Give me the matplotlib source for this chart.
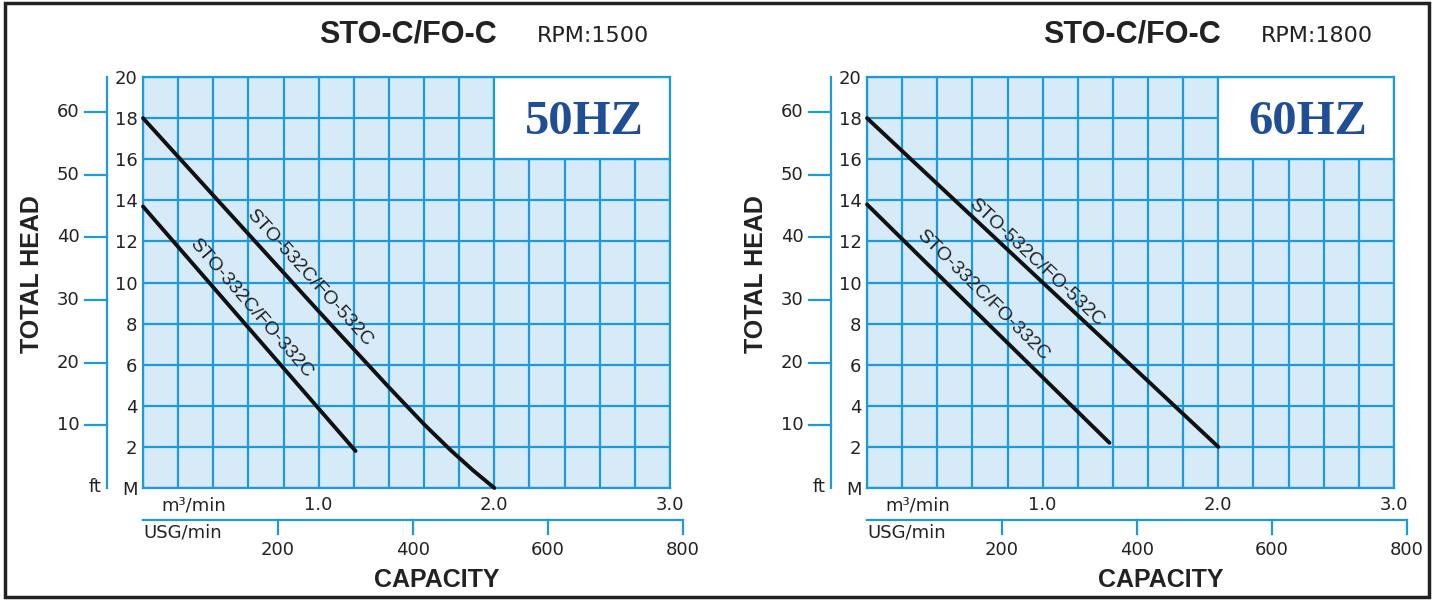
import numpy as np
import matplotlib
matplotlib.use("Agg")
import matplotlib.pyplot as plt
from matplotlib.patches import Rectangle

plt.rcParams['font.family'] = ['Liberation Sans', 'DejaVu Sans']

# ---------------- data ----------------
# capacity in m3/min, total head in m
flow_50_532 = [0.0, 0.5, 1.0, 1.4, 1.6, 1.75, 1.88, 2.0]
head_50_532 = [18.0, 13.3, 8.6, 4.9, 3.1, 1.85, 0.85, 0.0]
flow_50_332 = [0.0, 0.6, 1.21]
head_50_332 = [13.7, 7.8, 1.8]

flow_60_532 = [0.0, 1.0, 2.0]
head_60_532 = [18.0, 10.0, 2.0]
flow_60_332 = [0.0, 0.7, 1.38]
head_60_332 = [13.8, 7.9, 2.2]

label_532 = "STO-532C/FO-532C"
label_332 = "STO-332C/FO-332C"

m_ticks = list(range(0, 21, 2))
ft_ticks = [10, 20, 30, 40, 50, 60]
usg_ticks = [200, 400, 600, 800]
m3_labels = {1.0: "1.0", 2.0: "2.0", 3.0: "3.0"}

FT_TO_M = 0.3048
USG_TO_M3 = 0.00384   # as drawn on the sheet

BLUE = '#1d9bd8'
FILL = '#d6eaf8'
INK = '#222222'
HZ_BLUE = '#1f4e94'
SMALL = dict(fontsize=13, color=INK, family='DejaVu Sans')


def panel(left_px, curves, hz, rpm):
    W, H = 1432, 600
    ax = fig.add_axes([left_px / W, (600 - 488) / H, 527 / W, 411 / H])
    ax.set_xlim(0, 3.0)
    ax.set_ylim(0, 20)
    ax.set_facecolor(FILL)
    ax.set_axisbelow(True)
    ax.grid(True, color=BLUE, lw=1.6)
    for s in ax.spines.values():
        s.set_color(BLUE)
        s.set_linewidth(1.6)

    # metre axis
    ax.set_yticks(m_ticks)
    ax.set_yticklabels(['M'] + [str(v) for v in m_ticks[1:]], **SMALL)
    xt = np.round(np.arange(0, 3.01, 0.2), 1)
    ax.set_xticks(xt)
    ax.set_xticklabels([m3_labels.get(v, '') for v in xt], **SMALL)
    ax.tick_params(axis='y', length=0, pad=4)
    ax.tick_params(axis='x', length=0, pad=6)

    # white box with frequency
    ax.add_patch(Rectangle((2.0, 16), 1.0, 4, facecolor='white',
                           edgecolor=BLUE, lw=1.6, zorder=1))
    ax.text(2.51, 17.8, hz, ha='center', va='center', fontsize=35,
            fontweight='bold', color=HZ_BLUE, family='Liberation Serif')

    # pump curves + labels along them
    for fl, hd, lab, lx, ly in curves:
        ax.plot(fl, hd, color='#111111', lw=2.8, solid_capstyle='round',
                solid_joinstyle='round', zorder=3, clip_on=False)
        p0 = ax.transData.transform((fl[0], hd[0]))
        p1 = ax.transData.transform((fl[2], hd[2]))
        ang = np.degrees(np.arctan2(p1[1] - p0[1], p1[0] - p0[0]))
        ax.text(lx, ly, lab, rotation=ang, rotation_mode='anchor',
                ha='center', va='center', fontsize=14, color=INK, zorder=4)

    # feet scale on the left
    fx = -0.205
    ax.plot([fx, fx], [0, 20], color=BLUE, lw=1.6, clip_on=False)
    for f in ft_ticks:
        y = f * FT_TO_M
        ax.plot([fx - 0.125, fx], [y, y], color=BLUE, lw=1.6, clip_on=False)
        ax.text(fx - 0.155, y, str(f), ha='right', va='center', **SMALL)
    ax.text(fx - 0.03, 0.05, 'ft', ha='right', va='center', **SMALL)

    # USG scale below
    uy = -1.56
    ax.plot([0, usg_ticks[-1] * USG_TO_M3], [uy, uy], color=BLUE, lw=1.6,
            clip_on=False)
    for u in usg_ticks:
        x = u * USG_TO_M3
        ax.plot([x, x], [uy, uy - 0.7], color=BLUE, lw=1.6, clip_on=False)
        ax.text(x, uy - 1.45, str(u), ha='center', va='center', **SMALL)
    ax.text(0.29, -0.85, 'm³/min', ha='center', va='center', **SMALL)
    ax.text(0.0, -2.15, 'USG/min', ha='left', va='center', **SMALL)
    ax.text(1.674, -4.5, 'CAPACITY', ha='center', va='center', fontsize=18,
            fontweight='bold', color=INK)
    ax.text(-0.632, 10.4, 'TOTAL HEAD', ha='center', va='center',
            rotation=90, fontsize=18, fontweight='bold', color=INK)

    # titles
    ax.text(1.509, 21.7, 'STO-C/FO-C', ha='center', va='baseline',
            fontsize=22, fontweight='bold', color=INK)
    ax.text(2.244, 21.7, rpm, ha='left', va='baseline', fontsize=16,
            color=INK, family='DejaVu Sans')
    return ax


fig = plt.figure(figsize=(14.32, 6.0), dpi=100)
fig.patch.set_facecolor('white')

panel(143,
      [(flow_50_532, head_50_532, label_532, 0.945, 10.2),
       (flow_50_332, head_50_332, label_332, 0.613, 8.74)],
      '50HZ', 'RPM:1500')
panel(867,
      [(flow_60_532, head_60_532, label_532, 0.966, 10.98),
       (flow_60_332, head_60_332, label_332, 0.662, 9.36)],
      '60HZ', 'RPM:1800')

# outer frame
fig.patches.append(Rectangle((5 / 1432, 3 / 600), 1424 / 1432, 594 / 600,
                             transform=fig.transFigure, fill=False,
                             edgecolor='#222222', lw=2.5))

fig.savefig('out.png', dpi=100)
